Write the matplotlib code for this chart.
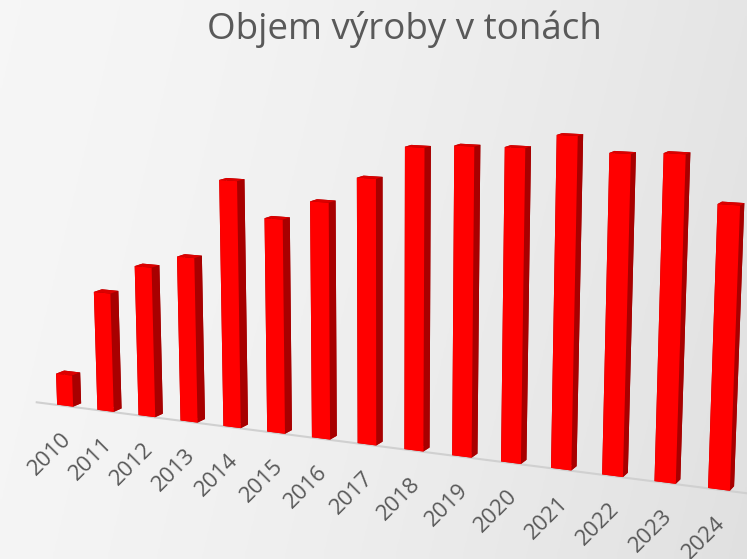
import numpy as np
import matplotlib
matplotlib.use("Agg")
import matplotlib.pyplot as plt
from matplotlib.transforms import offset_copy
from mpl_toolkits.mplot3d import proj3d

years = ["2010", "2011", "2012", "2013", "2014", "2015", "2016", "2017",
         "2018", "2019", "2020", "2021", "2022", "2023", "2024"]
values = [27, 101, 126, 137, 202, 174, 190, 211, 237, 240, 241, 252, 241, 243, 209]
title = "Objem výroby v tonách"

plt.rcParams['font.family'] = ['Open Sans', 'DejaVu Sans']

fig = plt.figure(figsize=(7.47, 5.59), dpi=100)

# background gradient
bg = fig.add_axes([0, 0, 1, 1])
gx = np.linspace(0, 1, 256)
gy = np.linspace(0, 1, 64)
GX, GY = np.meshgrid(gx, gy)
t = np.clip(0.85 * GX + 0.15 * GY, 0, 1) ** 1.5
c0 = np.array([0.965, 0.965, 0.965])
c1 = np.array([0.88, 0.88, 0.88])
img = c0[None, None, :] * (1 - t[..., None]) + c1[None, None, :] * t[..., None]
bg.imshow(img, aspect='auto', extent=[0, 1, 0, 1], origin='upper')
bg.set_axis_off()

ax = fig.add_axes([-0.087, -0.295, 1.178, 1.574], projection='3d')
ax.set_axis_off()
ax.set_facecolor('none')
ax.patch.set_alpha(0)

n = len(values)
x = np.arange(n, dtype=float)
dx = 0.4
dy = 0.3
face_cols = []
for _ in range(n):
    face_cols += ['#cc0000', '#dc0000', '#ff0000', '#a00000', '#a80000', '#a80000']
ax.bar3d(x, np.zeros(n), np.zeros(n), dx, dy, values, color=face_cols, shade=False,
         edgecolor='none', linewidth=0)

# baseline on the floor
ax.plot([-0.5, n + 0.5], [-0.02, -0.02], [0, 0], color='#d0d0d0', lw=1.5, zorder=0)

ax.set_xlim(-0.6, n + 0.4)
ax.set_ylim(0, 1)
ax.set_zlim(0, 270)
ax.set_box_aspect((n + 1.0, 1.0, 6.7), zoom=0.99)
ax.set_proj_type('persp', focal_length=0.4)
ax.view_init(elev=11, azim=-65.5)

M = ax.get_proj()
xs, ys, _ = proj3d.proj_transform(x + dx / 2, np.zeros(n), np.zeros(n), M)
lab_trans = offset_copy(ax.transData, fig=fig, x=-4, y=-23, units='dots')
for xp, yp, lab in zip(xs, ys, years):
    ax.text2D(xp, yp, lab, transform=lab_trans, rotation=45, rotation_mode='anchor',
              ha='right', va='top', fontsize=16, color='#595959')

fig.text(0.542, 0.948, title, ha='center', va='center', fontsize=26.5, color='#595959')

fig.savefig('out.png', dpi=100)
